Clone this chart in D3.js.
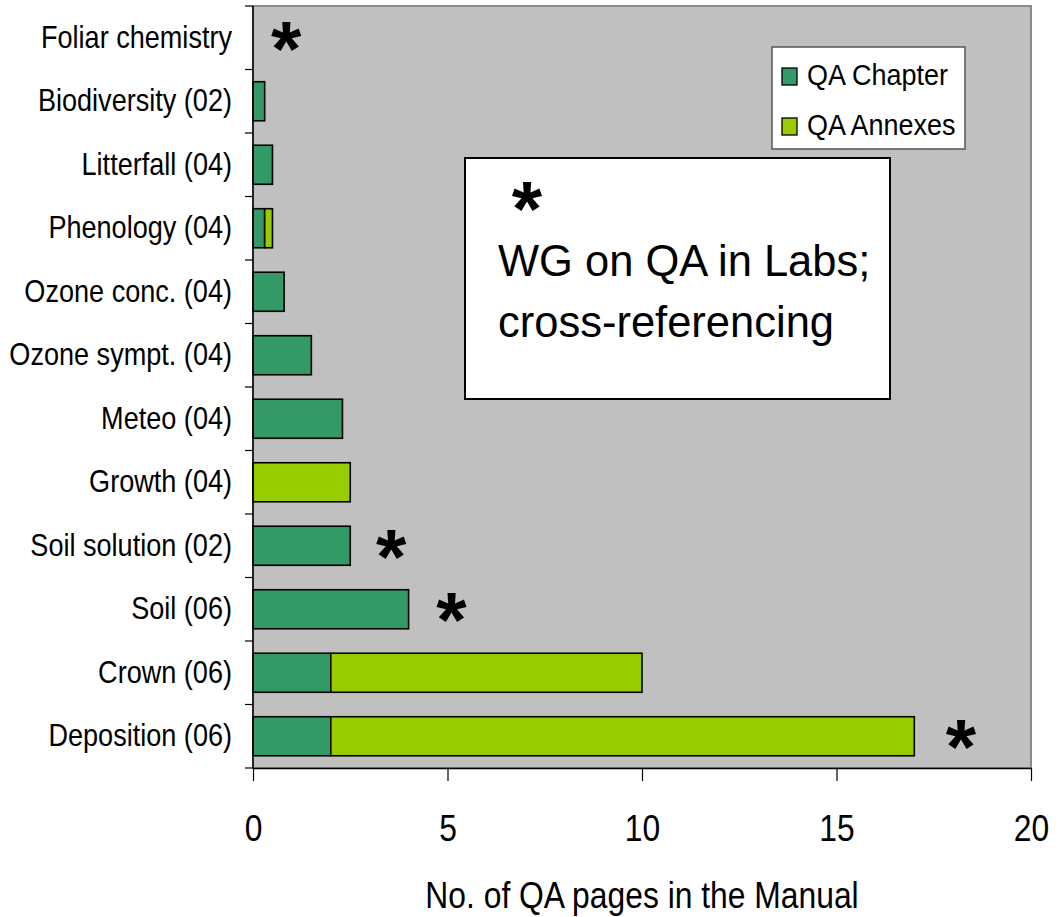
<!DOCTYPE html>
<html>
<head>
<meta charset="utf-8">
<script src="https://cdnjs.cloudflare.com/ajax/libs/d3/7.8.5/d3.min.js"></script>
<style>
  body { margin: 0; background: #fff; }
  text { font-family: "Liberation Sans", Arial, sans-serif; fill: #000; }
</style>
</head>
<body>
<svg id="chart" width="1063" height="917"></svg>
<script>
// categories, top to bottom
var categories = [
  "Foliar chemistry", "Biodiversity (02)", "Litterfall (04)", "Phenology (04)",
  "Ozone conc. (04)", "Ozone sympt. (04)", "Meteo (04)", "Growth (04)",
  "Soil solution (02)", "Soil (06)", "Crown (06)", "Deposition (06)"
];
var qaChapter = [0, 0.3, 0.5, 0.3, 0.8, 1.5, 2.3, 0, 2.5, 4, 2, 2];
var qaAnnexes = [0, 0, 0, 0.2, 0, 0, 0, 2.5, 0, 0, 8, 15];
var seriesNames = ["QA Chapter", "QA Annexes"];
var xTicks = [0, 5, 10, 15, 20];
// asterisk marks: category and x position in data units
var starCats = ["Foliar chemistry", "Soil solution (02)", "Soil (06)", "Deposition (06)"];
var starX = [0.85, 3.55, 5.1, 18.2];
var noteLines = ["WG on QA in Labs;", "cross-referencing"];

var colors = ["#339966", "#99CC00"];
var sx = 0.86; // horizontal squeeze of the text

var svg = d3.select("#chart");
var plotLeft = 253, plotRight = 1031, plotTop = 6, plotBottom = 768;

var x = d3.scaleLinear().domain([0, 20]).range([plotLeft, plotRight]);
var y = d3.scaleBand().domain(categories).range([plotTop, plotBottom])
  .paddingInner(0.385).paddingOuter(0.1925);

// plot area
svg.append("rect")
  .attr("x", plotLeft).attr("y", plotTop)
  .attr("width", plotRight - plotLeft).attr("height", plotBottom - plotTop)
  .attr("fill", "#C0C0C0")
  .attr("stroke", "#8a8a8a").attr("stroke-width", 2);

// stacked data
var rows = categories.map(function (c, i) {
  return { cat: c, chapter: qaChapter[i], annexes: qaAnnexes[i] };
});
var stack = d3.stack().keys(["chapter", "annexes"])(rows);

svg.append("g").selectAll("g")
  .data(stack)
  .join("g")
  .attr("fill", function (d, i) { return colors[i]; })
  .selectAll("rect")
  .data(function (d) { return d.filter(function (s) { return s[1] - s[0] > 0; }); })
  .join("rect")
  .attr("x", function (d) { return x(d[0]); })
  .attr("y", function (d) { return y(d.data.cat); })
  .attr("width", function (d) { return x(d[1]) - x(d[0]); })
  .attr("height", y.bandwidth())
  .attr("stroke", "#000").attr("stroke-width", 1.6);

// y axis: labels at band centres, ticks at band boundaries
var yAxis = svg.append("g")
  .attr("transform", "translate(" + plotLeft + ",0)")
  .call(d3.axisLeft(y).tickSize(0).tickPadding(21 / sx));
yAxis.select(".domain").remove();
yAxis.selectAll("text")
  .style("font-size", "31.5px")
  .attr("transform", "scale(" + sx + ",1)");

var bounds = d3.range(categories.length + 1).map(function (i) { return plotTop + i * y.step(); });
svg.append("g").selectAll("line")
  .data(bounds)
  .join("line")
  .attr("x1", plotLeft - 8).attr("x2", plotLeft)
  .attr("y1", function (d) { return d; }).attr("y2", function (d) { return d; })
  .attr("stroke", "#000").attr("stroke-width", 1.2);
svg.append("line")
  .attr("x1", plotLeft).attr("x2", plotLeft).attr("y1", plotTop).attr("y2", plotBottom)
  .attr("stroke", "#000").attr("stroke-width", 1.5);

// x axis
var xAxis = svg.append("g")
  .attr("transform", "translate(0," + plotBottom + ")")
  .call(d3.axisBottom(x).tickValues(xTicks).tickSize(13).tickPadding(34).tickSizeOuter(0));
xAxis.select(".domain").attr("stroke-width", 1.5);
xAxis.selectAll("line").attr("stroke-width", 1.2);
xAxis.selectAll("text")
  .style("font-size", "37px")
  .attr("transform", "scale(" + sx + ",1)");

svg.append("text")
  .attr("transform", "translate(" + ((plotLeft + plotRight) / 2) + ",908) scale(" + sx + ",1)")
  .attr("text-anchor", "middle")
  .style("font-size", "37px")
  .text("No. of QA pages in the Manual");

// asterisks
svg.append("g").selectAll("text")
  .data(starCats)
  .join("text")
  .attr("x", function (d, i) { return x(starX[i]); })
  .attr("y", function (d) { return y(d) + y.bandwidth() / 2 + 38; })
  .attr("text-anchor", "middle")
  .style("font-size", "78px").style("font-weight", "bold")
  .text("*");

// note box
var note = svg.append("g").attr("transform", "translate(465,158)");
note.append("rect")
  .attr("width", 425).attr("height", 241)
  .attr("fill", "#fff").attr("stroke", "#000").attr("stroke-width", 2);
note.append("text")
  .attr("x", 62).attr("y", 78)
  .attr("text-anchor", "middle")
  .style("font-size", "78px").style("font-weight", "bold")
  .text("*");
note.selectAll("text.line")
  .data(noteLines)
  .join("text")
  .attr("class", "line")
  .attr("x", 33)
  .attr("y", function (d, i) { return 118 + i * 61; })
  .style("font-size", "43.5px")
  .text(function (d) { return d; });

// legend
var legend = svg.append("g").attr("transform", "translate(772,47)");
legend.append("rect")
  .attr("width", 193).attr("height", 102)
  .attr("fill", "#fff").attr("stroke", "#555").attr("stroke-width", 1.5);
var item = legend.selectAll("g.item")
  .data(seriesNames)
  .join("g")
  .attr("class", "item")
  .attr("transform", function (d, i) { return "translate(0," + (i * 50) + ")"; });
item.append("rect")
  .attr("x", 10).attr("y", 21).attr("width", 15).attr("height", 17)
  .attr("fill", function (d, i) { return colors[i]; })
  .attr("stroke", "#000").attr("stroke-width", 1.3);
item.append("text")
  .attr("transform", "translate(35,38) scale(0.9,1)")
  .style("font-size", "30px")
  .text(function (d) { return d; });
</script>
</body>
</html>
